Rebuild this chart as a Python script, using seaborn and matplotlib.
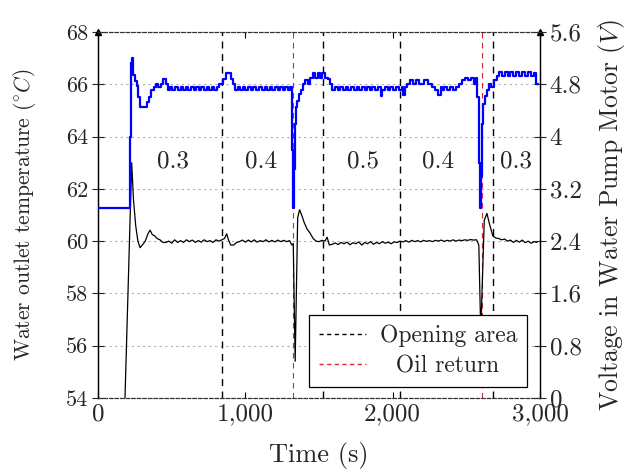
import numpy as np
import pandas as pd
import matplotlib
matplotlib.use("Agg")
import matplotlib.pyplot as plt
import seaborn as sns
from matplotlib.lines import Line2D

# ---------------- data ----------------
t_temp = [180, 228, 240, 255, 270, 285, 300, 320, 340, 353, 368, 385, 400, 420, 440, 460,
          480, 500, 520, 540, 560, 580, 600, 620, 640, 660, 680, 700, 720, 740, 760, 780,
          800, 820, 840, 858, 873, 885, 900, 920, 940, 960, 980, 1000, 1020, 1040, 1060,
          1080, 1100, 1120, 1140, 1160, 1180, 1200, 1220, 1240, 1260, 1280, 1300, 1315,
          1325, 1338, 1355, 1368, 1385, 1400, 1420, 1440, 1460, 1480, 1500, 1520, 1540,
          1555, 1570, 1590, 1610, 1630, 1650, 1670, 1690, 1710, 1730, 1750, 1770, 1790,
          1810, 1830, 1850, 1870, 1890, 1910, 1930, 1950, 1970, 1990, 2010, 2030, 2050,
          2070, 2090, 2110, 2130, 2150, 2170, 2190, 2210, 2230, 2250, 2270, 2290, 2310,
          2330, 2350, 2370, 2390, 2410, 2430, 2450, 2470, 2490, 2510, 2530, 2550, 2570,
          2585, 2598, 2622, 2640, 2660, 2680, 2700, 2720, 2740, 2760, 2780, 2800, 2820,
          2840, 2860, 2880, 2900, 2920, 2940, 2960, 2980]
temperature = [53.5, 63.0, 61.6, 60.6, 60.0, 59.75, 59.85, 60.0, 60.3, 60.42, 60.25, 60.2,
               60.1, 60.05, 59.95, 59.95, 60.0, 59.92, 60.05, 59.95, 60.02, 59.95, 60.05,
               59.98, 60.04, 59.95, 60.02, 59.96, 60.05, 59.98, 60.02, 59.95, 60.05, 60.0,
               60.05, 60.1, 60.28, 60.05, 59.85, 59.85, 59.95, 59.98, 60.04, 59.96, 60.04,
               59.97, 60.05, 59.96, 60.02, 59.98, 60.05, 59.97, 60.03, 59.97, 60.04, 59.98,
               60.03, 59.98, 60.02, 59.85, 59.9, 55.4, 60.9, 61.2, 60.95, 60.7, 60.45, 60.3,
               60.1, 60.0, 59.98, 60.03, 60.0, 60.15, 59.85, 59.88, 59.93, 59.87, 59.95,
               59.9, 59.96, 59.86, 59.94, 59.9, 59.97, 59.85, 59.95, 59.9, 59.98, 59.88,
               59.95, 59.9, 59.98, 59.92, 59.96, 59.9, 59.97, 59.95, 60.0, 59.97, 60.02,
               59.96, 60.03, 59.98, 60.02, 59.97, 60.03, 59.99, 60.02, 59.98, 60.03, 60.0,
               60.04, 59.99, 60.03, 60.0, 60.05, 60.0, 60.04, 60.02, 60.05, 60.03, 60.06,
               60.04, 60.05, 59.85, 56.5, 60.8, 61.06, 60.6, 60.2, 60.12, 60.1, 60.05,
               60.08, 60.0, 60.04, 59.95, 60.03, 59.96, 60.04, 59.94, 60.0, 59.92, 59.98,
               59.95]

t_volt = [0, 208, 214, 220, 226, 232, 240, 250, 262, 272, 285, 300, 318, 332, 348, 362,
          378, 392, 410, 425, 440, 462, 475, 490, 505, 525, 540, 560, 575, 595, 610, 630,
          650, 665, 685, 700, 720, 740, 755, 775, 790, 805, 820, 845, 868, 902, 915, 930,
          950, 965, 985, 1000, 1020, 1040, 1055, 1075, 1090, 1110, 1130, 1145, 1165, 1180,
          1200, 1220, 1235, 1255, 1270, 1290, 1305, 1314, 1318, 1322, 1328, 1334, 1342,
          1352, 1365, 1380, 1392, 1405, 1425, 1440, 1460, 1475, 1490, 1505, 1520, 1540,
          1560, 1575, 1590, 1610, 1630, 1645, 1665, 1680, 1700, 1720, 1735, 1755, 1770,
          1790, 1810, 1825, 1845, 1860, 1880, 1900, 1918, 1930, 1945, 1965, 1980, 2000,
          2020, 2040, 2060, 2070, 2082, 2100, 2120, 2135, 2160, 2180, 2210, 2240, 2270,
          2290, 2310, 2325, 2335, 2350, 2370, 2390, 2410, 2430, 2450, 2470, 2490, 2510,
          2530, 2550, 2565, 2575, 2585, 2592, 2600, 2606, 2614, 2625, 2640, 2655, 2670,
          2690, 2705, 2720, 2740, 2760, 2780, 2800, 2820, 2840, 2860, 2880, 2900, 2920,
          2940, 2960, 2975, 2990]
voltage = [2.9, 2.9, 4.0, 4.9, 5.12, 5.2, 4.95, 4.85, 4.78, 4.6, 4.45, 4.45, 4.45, 4.53,
           4.6, 4.72, 4.76, 4.8, 4.76, 4.8, 4.88, 4.8, 4.72, 4.76, 4.72, 4.76, 4.72, 4.76,
           4.72, 4.76, 4.72, 4.76, 4.72, 4.76, 4.72, 4.76, 4.72, 4.76, 4.72, 4.76, 4.72,
           4.76, 4.8, 4.88, 4.97, 4.88, 4.8, 4.72, 4.76, 4.72, 4.76, 4.72, 4.76, 4.72, 4.76,
           4.72, 4.76, 4.72, 4.76, 4.72, 4.76, 4.72, 4.76, 4.72, 4.76, 4.72, 4.76, 4.72,
           4.76, 4.6, 3.8, 2.9, 3.5, 4.2, 4.45, 4.55, 4.65, 4.72, 4.8, 4.86, 4.8, 4.9, 4.97,
           4.9, 4.97, 4.9, 4.97, 4.9, 4.88, 4.8, 4.72, 4.76, 4.72, 4.76, 4.72, 4.76, 4.72,
           4.76, 4.72, 4.76, 4.72, 4.76, 4.72, 4.76, 4.72, 4.76, 4.72, 4.76, 4.62, 4.72,
           4.76, 4.72, 4.76, 4.72, 4.76, 4.72, 4.76, 4.64, 4.76, 4.8, 4.86, 4.8, 4.86, 4.8,
           4.86, 4.8, 4.76, 4.72, 4.64, 4.76, 4.72, 4.76, 4.72, 4.76, 4.72, 4.76, 4.8, 4.86,
           4.9, 4.86, 4.9, 4.8, 4.9, 4.6, 3.6, 2.9, 3.4, 4.2, 4.5, 4.62, 4.72, 4.8, 4.76,
           4.86, 4.93, 4.99, 4.93, 4.99, 4.93, 4.99, 4.93, 4.99, 4.93, 4.99, 4.93, 4.99,
           4.93, 4.97, 4.8, 4.8]

opening_lines = [842, 1530, 2050, 2680]
oil_return_lines = [1322, 2605]
area_labels = ["0.3", "0.4", "0.5", "0.4", "0.3"]
area_label_x = [506, 1105, 1801, 2308, 2839]

x_ticks = [0, 1000, 2000, 3000]
x_tick_labels = ["0", "1,000", "2,000", "3,000"]
y_ticks = [54, 56, 58, 60, 62, 64, 66, 68]
y2_ticks = [0, 0.8, 1.6, 2.4, 3.2, 4.0, 4.8, 5.6]
y2_tick_labels = ["0", "0.8", "1.6", "2.4", "3.2", "4", "4.8", "5.6"]

# ---------------- style ----------------
sns.set_style("white")
plt.rcParams['font.family'] = ['cmr10', 'DejaVu Serif']
plt.rcParams['mathtext.fontset'] = 'cm'
plt.rcParams['axes.formatter.use_mathtext'] = True

fig = plt.figure(figsize=(6.33, 4.72), dpi=100)
ax = fig.add_axes([0.155, 0.157, 0.698, 0.775])

df_t = pd.DataFrame({"t": t_temp, "T": temperature})
df_v = pd.DataFrame({"t": t_volt, "V": voltage})

sns.lineplot(data=df_t, x="t", y="T", ax=ax, color="black", lw=0.9,
             estimator=None, sort=False, zorder=3)

for xv in opening_lines:
    ax.axvline(xv, color="black", lw=1.0, ls=(0, (5, 4)), zorder=2)
for xv in oil_return_lines:
    ax.axvline(xv, color="#dd2233", lw=0.8, ls=(0, (5, 4)), zorder=2)

for lab, xv in zip(area_labels, area_label_x):
    ax.text(xv, 63.04, lab, ha="center", va="center", fontsize=18)

ax.set_xlim(0, 3000)
ax.set_ylim(54, 68)
ax.set_xticks(x_ticks)
ax.set_xticklabels(x_tick_labels)
ax.set_yticks(y_ticks)
ax.set_yticklabels([str(v) for v in y_ticks])
ax.tick_params(axis="x", direction="in", length=4, top=True, bottom=True,
               labelsize=18, pad=4, color="black")
ax.tick_params(axis="y", direction="inout", length=8, labelsize=16, pad=3)
ax.yaxis.grid(True, ls=(0, (2, 3)), color="#b0b0b0", lw=0.8)
ax.xaxis.grid(False)
ax.set_xlabel("Time (s)", fontsize=19, labelpad=12)
ax.set_ylabel(r"Water outlet temperature ($^{\circ}C$)", fontsize=15.5, labelpad=20)

ax2 = ax.twinx()
sns.lineplot(data=df_v, x="t", y="V", ax=ax2, color="#0000ff", lw=1.6,
             estimator=None, sort=False, drawstyle="steps-post", zorder=4)
ax2.set_ylim(0, 5.6)
ax2.set_yticks(y2_ticks)
ax2.set_yticklabels(y2_tick_labels)
ax2.tick_params(axis="y", direction="inout", length=8, labelsize=18, pad=3)
ax2.set_ylabel(r"Voltage in Water Pump Motor ($V$)", fontsize=18.5, labelpad=10)
ax2.grid(False)

for a in (ax, ax2):
    for s in ("top", "bottom"):
        a.spines[s].set_linestyle((0, (3, 2)))
        a.spines[s].set_color("#333333")
        a.spines[s].set_linewidth(0.8)
    for s in ("left", "right"):
        a.spines[s].set_color("black")
        a.spines[s].set_linewidth(0.9)

# arrows on top of vertical axes
for xa in (0, 1):
    ax.plot([xa], [1.0], marker="^", ms=5, color="black", transform=ax.transAxes,
            clip_on=False, zorder=6)

handles = [Line2D([], [], color="black", lw=1.0, ls=(0, (3, 2.5))),
           Line2D([], [], color="#dd2233", lw=1.0, ls=(0, (3, 2.5)))]
leg = ax2.legend(handles, ["Opening area", "  Oil return"], loc="lower right",
                 bbox_to_anchor=(0.971, 0.03), borderaxespad=0.0, fontsize=17,
                 frameon=True, fancybox=False, edgecolor="black", framealpha=1.0,
                 handlelength=2.0, borderpad=0.4, labelspacing=0.35, handletextpad=0.6)
leg.get_frame().set_linewidth(0.9)

fig.savefig("out.png", dpi=100)
